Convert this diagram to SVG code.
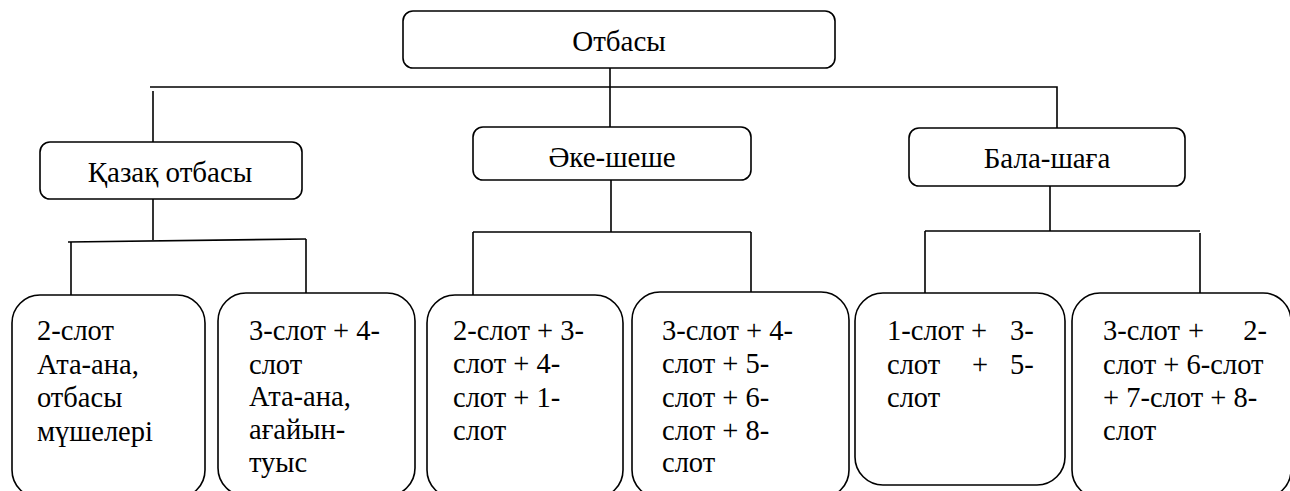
<svg xmlns="http://www.w3.org/2000/svg" width="1290" height="491" viewBox="0 0 1290 491">
<style>
.box{fill:#fff;stroke:#000;stroke-width:1.6}
.ln{fill:none;stroke:#000;stroke-width:1.6}
.t{font-family:'Liberation Serif','Times New Roman',serif;font-size:28.5px;fill:#000}
.h{font-family:'Liberation Serif','Times New Roman',serif;font-size:29px;fill:#000;text-anchor:middle}
</style>
<rect width="1290" height="491" fill="#fff"/>
<g id="connectors">
<path class="ln" d="M610,68 V127"/>
<path class="ln" d="M150,87 H1057 V128"/>
<path class="ln" d="M153,91 V142"/>
<path class="ln" d="M153,199 V240"/>
<path class="ln" d="M68,242 L306,239"/>
<path class="ln" d="M71,242 V295"/>
<path class="ln" d="M306,239 V293"/>
<path class="ln" d="M611,180 V232 M473,232 H751 M473,232 V295 M751,232 V292"/>
<path class="ln" d="M1050,186 V231 M925,231 H1200 M925,231 V293 M1200,233 V293"/>
</g>
<g id="n-otbasy">
<rect class="box" x="403" y="11" width="432" height="57" rx="10"/>
<text class="h" x="619" y="51">Отбасы</text>
</g>
<g id="n-kazak">
<rect class="box" x="40" y="142" width="262" height="57" rx="10"/>
<text class="h" x="170" y="182">Қазақ отбасы</text>
</g>
<g id="n-ake">
<rect class="box" x="473" y="127" width="278" height="53" rx="10"/>
<text class="h" x="612" y="167">Әке-шеше</text>
</g>
<g id="n-bala">
<rect class="box" x="909" y="128" width="276" height="58" rx="10"/>
<text class="h" x="1047" y="168">Бала-шаға</text>
</g>
<g id="n-s1">
<rect class="box" x="12" y="295" width="193" height="203" rx="28"/>
<text class="t" x="37" y="340">2-слот</text>
<text class="t" x="37" y="374">Ата-ана,</text>
<text class="t" x="37" y="407">отбасы</text>
<text class="t" x="37" y="441">мүшелері</text>
</g>
<g id="n-s2">
<rect class="box" x="218" y="293" width="197" height="203" rx="28"/>
<text class="t" x="249" y="340">3-слот + 4-</text>
<text class="t" x="249" y="374">слот</text>
<text class="t" x="249" y="406">Ата-ана,</text>
<text class="t" x="249" y="439">ағайын-</text>
<text class="t" x="249" y="472">туыс</text>
</g>
<g id="n-s3">
<rect class="box" x="427" y="295" width="196" height="203" rx="28"/>
<text class="t" x="453" y="340">2-слот + 3-</text>
<text class="t" x="453" y="373">слот + 4-</text>
<text class="t" x="453" y="407">слот + 1-</text>
<text class="t" x="453" y="440">слот</text>
</g>
<g id="n-s4">
<rect class="box" x="632" y="292" width="217" height="206" rx="28"/>
<text class="t" x="662" y="340">3-слот + 4-</text>
<text class="t" x="662" y="373">слот + 5-</text>
<text class="t" x="662" y="407">слот + 6-</text>
<text class="t" x="662" y="440">слот + 8-</text>
<text class="t" x="662" y="472">слот</text>
</g>
<g id="n-s5">
<rect class="box" x="855" y="293" width="210" height="192" rx="28"/>
<text class="t" x="887" y="340">1-слот +</text>
<text class="t" x="1010" y="340">3-</text>
<text class="t" x="887" y="374">слот</text>
<text class="t" x="972" y="374">+</text>
<text class="t" x="1010" y="374">5-</text>
<text class="t" x="887" y="407">слот</text>
</g>
<g id="n-s6">
<rect class="box" x="1072" y="293" width="219" height="205" rx="28"/>
<text class="t" x="1103" y="340">3-слот</text>
<text class="t" x="1188" y="340">+</text>
<text class="t" x="1267" y="340" text-anchor="end">2-</text>
<text class="t" x="1103" y="374">слот + 6-слот</text>
<text class="t" x="1103" y="407">+ 7-слот + 8-</text>
<text class="t" x="1103" y="440">слот</text>
</g>
</svg>
